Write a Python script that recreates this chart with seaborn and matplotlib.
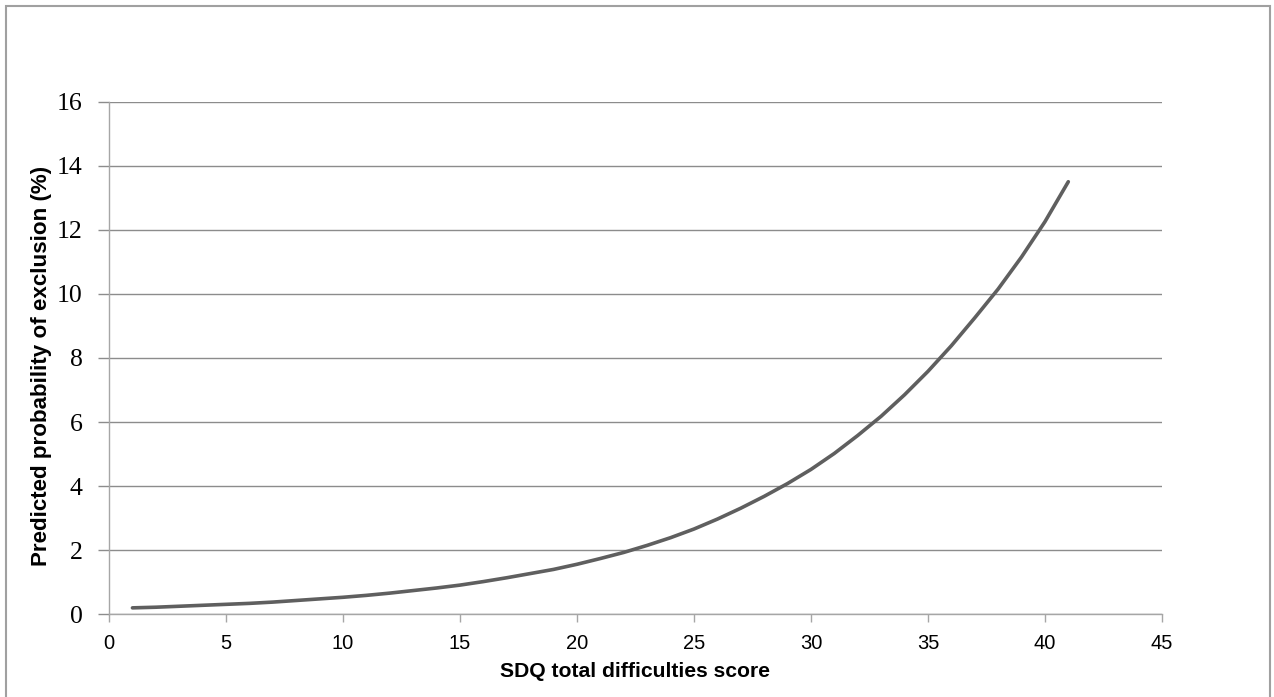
import numpy as np
import pandas as pd
import seaborn as sns
from matplotlib import pyplot as plt
from matplotlib.patches import Rectangle

# values
sdq_score = [1, 2, 3, 4, 5, 6, 7, 8, 9, 10, 11, 12, 13, 14, 15, 16, 17, 18, 19, 20, 21,
             22, 23, 24, 25, 26, 27, 28, 29, 30, 31, 32, 33, 34, 35, 36, 37, 38, 39, 40, 41]
prob_exclusion = [0.20, 0.22, 0.25, 0.28, 0.31, 0.34, 0.38, 0.43, 0.48, 0.53, 0.59, 0.66,
                  0.74, 0.82, 0.91, 1.02, 1.14, 1.27, 1.40, 1.56, 1.74, 1.93, 2.15, 2.39,
                  2.66, 2.97, 3.31, 3.68, 4.08, 4.52, 5.02, 5.58, 6.18, 6.85, 7.58, 8.38,
                  9.25, 10.15, 11.15, 12.25, 13.50]
x_ticks = [0, 5, 10, 15, 20, 25, 30, 35, 40, 45]
y_ticks = [0, 2, 4, 6, 8, 10, 12, 14, 16]

df = pd.DataFrame({'score': sdq_score, 'prob': prob_exclusion})

sns.set_style("white")
plt.rcParams['font.family'] = ['Liberation Sans', 'DejaVu Sans']
plt.rcParams['text.color'] = 'black'
plt.rcParams['axes.labelcolor'] = 'black'
plt.rcParams['xtick.labelcolor'] = 'black'
plt.rcParams['ytick.labelcolor'] = 'black'

fig = plt.figure(figsize=(12.74, 6.97), dpi=100)
ax = fig.add_axes([0.0856, 0.1187, 0.912 - 0.0856, 0.8542 - 0.1187])

sns.lineplot(data=df, x='score', y='prob', ax=ax, color='#5f5f5f', linewidth=2.6)

ax.set_xlim(0, 45)
ax.set_ylim(0, 16)
ax.set_xticks(x_ticks)
ax.set_yticks(y_ticks)
ax.yaxis.grid(True, color='#8c8c8c', linewidth=1.0)
ax.set_axisbelow(True)

for side in ['top', 'right']:
    ax.spines[side].set_visible(False)
for side in ['left', 'bottom']:
    ax.spines[side].set_color('#a6a6a6')
    ax.spines[side].set_linewidth(1.0)

ax.tick_params(axis='x', direction='out', length=6, width=1, color='#a6a6a6',
               labelsize=14.5, pad=8, bottom=True)
ax.tick_params(axis='y', direction='out', length=8, width=1, color='#8c8c8c',
               labelsize=18.5, pad=11, left=True)
for lab in ax.get_yticklabels():
    lab.set_family(['Liberation Serif', 'DejaVu Serif'])

ax.set_xlabel('SDQ total difficulties score', fontsize=15.2, fontweight='bold', labelpad=7)
ax.set_ylabel('Predicted probability of exclusion (%)', fontsize=16.1, fontweight='bold',
              va='center')
ax.yaxis.set_label_coords(-0.0646, 0.484)

# chart border
fig.patches.append(Rectangle((6 / 1274, -0.01), (1270 - 6) / 1274, 1.01 - 6 / 697,
                             transform=fig.transFigure, fill=False,
                             edgecolor='#a0a0a0', linewidth=1.5))

fig.savefig('out.png', dpi=100)
